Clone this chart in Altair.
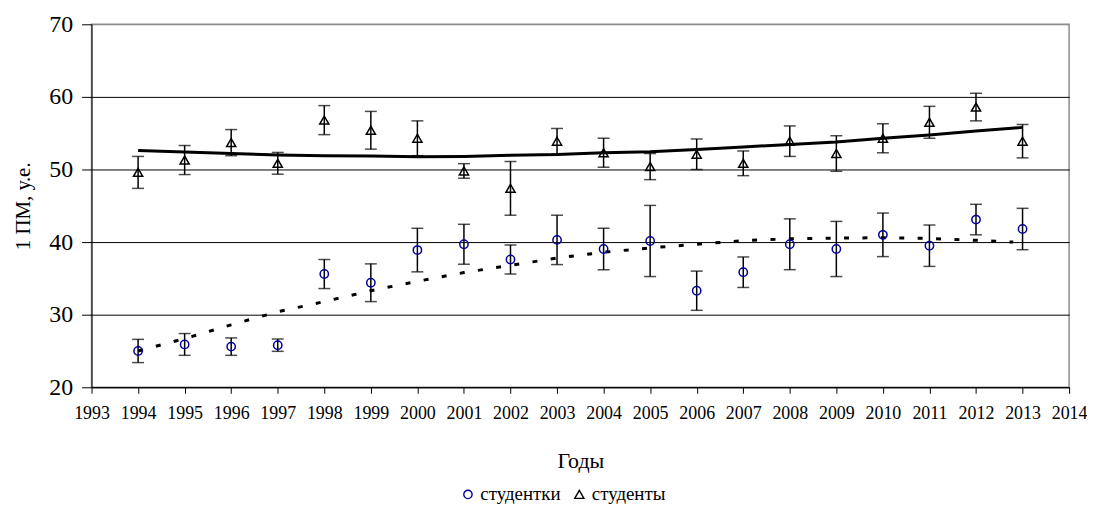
import altair as alt
import pandas as pd

# ---- data ----
years = [1994, 1995, 1996, 1997, 1998, 1999, 2000, 2001, 2002, 2003,
         2004, 2005, 2006, 2007, 2008, 2009, 2010, 2011, 2012, 2013]

female = [25.0, 25.9, 25.6, 25.8, 35.6, 34.4, 38.9, 39.7, 37.6, 40.3,
          39.05, 40.15, 33.3, 35.85, 39.7, 39.05, 41.0, 39.5, 43.1, 41.8]
female_err = [1.6, 1.5, 1.2, 0.85, 2.0, 2.6, 3.0, 2.75, 2.0, 3.4,
              2.85, 4.9, 2.7, 2.1, 3.5, 3.8, 3.0, 2.85, 2.1, 2.85]

male = [49.6, 51.3, 53.7, 50.85, 56.8, 55.4, 54.3, 49.8, 47.4, 53.9,
        52.3, 50.4, 52.1, 50.85, 53.9, 52.2, 54.3, 56.5, 58.6, 53.9]
male_err = [2.2, 2.0, 1.8, 1.5, 2.0, 2.6, 2.4, 1.0, 3.7, 1.75,
            2.0, 1.8, 2.1, 1.7, 2.1, 2.45, 2.0, 2.2, 1.9, 2.3]

male_trend_years = years
male_trend = [52.6, 52.4, 52.2, 52.0, 51.9, 51.85, 51.75, 51.8, 51.95, 52.05,
              52.3, 52.45, 52.75, 53.1, 53.45, 53.8, 54.3, 54.75, 55.3, 55.8]

female_trend_years = [1994, 1995, 1996, 1997, 1998, 1999, 2000, 2001, 2002, 2003,
                      2004, 2005, 2006, 2007, 2008, 2009, 2010, 2011, 2012, 2012.8]
female_trend = [25.0, 26.7, 28.6, 30.4, 31.8, 33.3, 34.6, 35.8, 36.8, 37.8,
                38.6, 39.2, 39.7, 40.2, 40.45, 40.55, 40.6, 40.5, 40.25, 40.0]

series_names = ["студентки", "студенты"]
x_ticks = list(range(1993, 2015))
y_ticks = [20, 30, 40, 50, 60, 70]

# ---- tables ----
rows = []
for name, vals, errs in [(series_names[0], female, female_err),
                         (series_names[1], male, male_err)]:
    for yr, v, e in zip(years, vals, errs):
        rows.append({"year": yr, "series": name, "value": v,
                     "lo": v - e, "hi": v + e})
df = pd.DataFrame(rows)

df_male_trend = pd.DataFrame({"year": male_trend_years, "value": male_trend})
df_female_trend = pd.DataFrame({"year": female_trend_years, "value": female_trend})

FONT = "Liberation Serif"

x_scale = alt.Scale(domain=[1993, 2014], nice=False, zero=False)
y_scale = alt.Scale(domain=[20, 70], nice=False, zero=False)

x_axis = alt.Axis(values=x_ticks, format="d", title="Годы", grid=False,
                  labelFont=FONT, labelFontSize=18, labelColor="black",
                  labelPadding=11, labelOverlap=False, labelFlush=False,
                  tickSize=6, tickColor="black", domainColor="black",
                  titleFont=FONT, titleFontSize=22, titleFontWeight="normal",
                  titleColor="black", titlePadding=29)
y_axis = alt.Axis(values=y_ticks, title="1 ПМ, у.е.", grid=True,
                  gridColor={"condition": {"test": "datum.value >= 70", "value": "#8c8c8c"},
                             "value": "black"},
                  gridWidth=1,
                  labelFont=FONT, labelFontSize=24, labelColor="black",
                  labelPadding=9, tickSize=10, tickColor="black",
                  domainColor="black",
                  titleFont=FONT, titleFontSize=21, titleFontWeight="normal",
                  titleColor="black", titlePadding=15)

X = alt.X("year:Q", scale=x_scale, axis=x_axis)

base = alt.Chart(df)

bars = base.mark_rule(color="black", strokeWidth=1.5).encode(
    x=X,
    y=alt.Y("lo:Q", scale=y_scale, axis=y_axis),
    y2="hi:Q",
)
caps_lo = base.mark_tick(orient="horizontal", size=12, thickness=1.5, color="black").encode(
    x=X, y=alt.Y("lo:Q", scale=y_scale, axis=y_axis))
caps_hi = base.mark_tick(orient="horizontal", size=12, thickness=1.5, color="black").encode(
    x=X, y=alt.Y("hi:Q", scale=y_scale, axis=y_axis))

male_line = alt.Chart(df_male_trend).mark_line(color="black", strokeWidth=3).encode(
    x=X, y=alt.Y("value:Q", scale=y_scale, axis=y_axis))
female_line = alt.Chart(df_female_trend).mark_line(
    color="black", strokeWidth=3, strokeDash=[5, 13.5]).encode(
    x=X, y=alt.Y("value:Q", scale=y_scale, axis=y_axis))

legend = alt.Legend(title=None, orient="none", legendX=369, legendY=463,
                    direction="horizontal", labelFont=FONT, labelFontSize=19,
                    labelColor="black", symbolSize=60, symbolStrokeWidth=1.4,
                    labelOffset=3, columnPadding=9)

points = base.mark_point(filled=False, strokeWidth=1.5, opacity=1).encode(
    x=X,
    y=alt.Y("value:Q", scale=y_scale, axis=y_axis),
    shape=alt.Shape("series:N", scale=alt.Scale(domain=series_names,
                                                range=["circle", "triangle-up"]),
                    legend=legend),
    color=alt.Color("series:N", scale=alt.Scale(domain=series_names,
                                                range=["#000099", "black"]),
                    legend=legend),
    size=alt.Size("series:N", scale=alt.Scale(domain=series_names, range=[70, 85]),
                  legend=None),
)

chart = alt.layer(bars, caps_lo, caps_hi, male_line, female_line, points).properties(
    width=983,
    height=365,
    autosize=alt.AutoSizeParams(type="none"),
    padding={"left": 84, "top": 15, "right": 18, "bottom": 118},
    background="white",
).configure_view(
    stroke="#8c8c8c", strokeWidth=1.5
)

chart.save("out.html", embed_options={"renderer": "svg", "actions": False})
